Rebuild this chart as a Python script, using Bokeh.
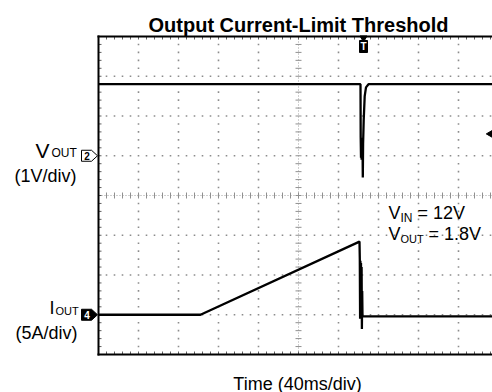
import numpy as np
from bokeh.plotting import figure
from bokeh.models import Range1d
from bokeh.core.properties import value
from bokeh.embed import file_html
from bokeh.resources import INLINE

# ---------------- data ----------------
title_text = "Output Current-Limit Threshold"
x_label = "Time (40ms/div)"
ms_per_div = 40.0
v_per_div = 1.0
a_per_div = 5.0
vout_ref_div = 1.0     # channel 2 ground marker (divisions from centre)
iout_ref_div = -3.0    # channel 4 zero marker

# VOUT trace (ms, V)
vout_t = [0, 262.0, 262.2, 262.5, 262.8, 263.1, 263.4, 263.7, 264.0, 264.3, 264.6, 265.2, 266.2, 267.5, 270.0, 394]
vout_v = [1.8, 1.8, 0.46, -0.05, 0.45, -0.1, 0.45, -0.05, 0.4, -0.55, 0.3, 0.9, 1.5, 1.72, 1.8, 1.8]

# IOUT trace (ms, A)
iout_t = [0, 102, 261.0, 261.3, 261.6, 261.9, 262.2, 262.5, 262.8, 263.1, 263.4, 263.7, 264.0, 266.0, 394]
iout_a = [0, 0, 9.2, 7.0, -0.5, 6.8, -0.3, 6.5, -0.5, 6.0, -1.8, 3.0, -0.2, -0.2, -0.2]

trigger_t = 265.0
trigger_level_v = 0.55

# ---------------- layout helpers (page pixels -> data) ----------------
PX_DIV_X = 40.0
PX_DIV_Y = 39.75
def gx(page_x):
    return (page_x - 98) * ms_per_div / PX_DIV_X
def gy(page_y):
    return (195 - page_y) / PX_DIV_Y

FONT = value("Liberation Sans")

OX, OY = 0, 0
W, H = 492, 392
p = figure(width=W, height=H,
           x_range=Range1d(gx(OX), gx(OX + W)), y_range=Range1d(gy(OY + H), gy(OY)),
           output_backend="svg", toolbar_location=None,
           x_axis_type=None, y_axis_type=None, min_border=0,
           outline_line_color=None, background_fill_color="white",
           border_fill_color="white")

t_max = gx(OX + W) + 5
dx_minor = ms_per_div / 5

# grid dots
dxs, dys = [], []
for k in range(1, 10):
    if k == 5:
        continue
    for j in range(1, 40):
        dxs.append(k * ms_per_div)
        dys.append(-4 + 0.2 * j)
for yy in [-3, -2, -1, 1, 2, 3]:
    j = 1
    while j * dx_minor < t_max:
        if j % 5 != 0:
            dxs.append(j * dx_minor)
            dys.append(yy)
        j += 1
p.scatter(dxs, dys, marker="square", size=1.6, fill_color="#8c8c8c", line_color=None)

# centre cross
p.line([5 * ms_per_div] * 2, [-4, 4], line_color="#a0a0a0", line_width=1, line_dash="1 2")
p.line([0, t_max], [0, 0], line_color="#a0a0a0", line_width=1, line_dash="1 2")
cy = [-4 + 0.2 * j for j in range(1, 40)]
p.segment(x0=[5 * ms_per_div - 3] * len(cy), y0=cy, x1=[5 * ms_per_div + 3] * len(cy), y1=cy,
          line_color="#909090", line_width=1)
cx = [j * dx_minor for j in range(1, int(t_max / dx_minor) + 1)]
p.segment(x0=cx, y0=[-3 / PX_DIV_Y] * len(cx), x1=cx, y1=[3 / PX_DIV_Y] * len(cx),
          line_color="#909090", line_width=1)

# border ticks
p.segment(x0=[0] * len(cy), y0=cy, x1=[3] * len(cy), y1=cy, line_color="#606060", line_width=1)
p.segment(x0=cx, y0=[4] * len(cx), x1=cx, y1=[4 - 3 / PX_DIV_Y] * len(cx), line_color="#606060", line_width=1)
p.segment(x0=cx, y0=[-4] * len(cx), x1=cx, y1=[-4 + 3 / PX_DIV_Y] * len(cx), line_color="#606060", line_width=1)

# frame (left, top, bottom)
p.segment(x0=[0, 0, 0], y0=[-4, 4, -4], x1=[0, t_max, t_max], y1=[4, 4, -4],
          line_color="black", line_width=2, line_cap="square")

# traces
p.line(vout_t, [v / v_per_div + vout_ref_div for v in vout_v], line_color="black", line_width=2.3)
p.line(iout_t, [a / a_per_div + iout_ref_div for a in iout_a], line_color="black", line_width=2.3)

# trigger markers
p.scatter([trigger_t], [gy(37.5)], marker="inverted_triangle", size=7, color="black")
p.rect([trigger_t], [gy(46)], width=8, height=12 / PX_DIV_Y, fill_color="black", line_color="black")
p.text([trigger_t], [gy(46)], text=["T"], text_color="white", text_font=FONT, text_font_size="10px",
       text_font_style="bold", text_align="center", text_baseline="middle")
p.scatter([gx(491)], [trigger_level_v / v_per_div + vout_ref_div], marker="triangle",
          angle=np.pi / 2, size=9, color="black")

# channel markers
def pent(yc):
    h = 5.5 / PX_DIV_Y
    return ([gx(81), gx(91), gx(97), gx(91), gx(81)], [yc + h, yc + h, yc, yc - h, yc - h])
xs2, ys2 = pent(vout_ref_div)
xs4, ys4 = pent(iout_ref_div)
p.patch(xs2, ys2, fill_color="white", line_color="black", line_width=1)
p.patch(xs4, ys4, fill_color="black", line_color="black", line_width=1)
p.text([gx(86.5)], [vout_ref_div], text=["2"], text_color="black", text_font=FONT, text_font_size="10px",
       text_font_style="bold", text_align="center", text_baseline="middle")
p.text([gx(86.5)], [iout_ref_div], text=["4"], text_color="white", text_font=FONT, text_font_size="10px",
       text_font_style="bold", text_align="center", text_baseline="middle")

def txt(x, y, s, size, align="left", bold=False):
    p.text([x], [y], text=[s], text_color="black", text_font=FONT, text_font_size=size,
           text_font_style="bold" if bold else "normal", text_align=align, text_baseline="alphabetic")

# title and x label
txt(gx(298), gy(24), title_text, "20px", "center", True)
txt(gx(297), gy(383), x_label, "18px", "center")

# left labels
txt(gx(49), gy(150), "V", "21px", "right")
txt(gx(51), gy(152), "OUT", "12px", "left")
txt(gx(76), gy(175), "(1V/div)", "18px", "right")
txt(gx(54), gy(307), "I", "18px", "right")
txt(gx(55), gy(310.5), "OUT", "11px", "left")
txt(gx(77), gy(332), "(5A/div)", "18px", "right")

# condition annotation
txt(gx(388), gy(212), "V", "18px")
txt(gx(400), gy(217.5), "IN", "12px")
txt(gx(417), gy(212), "= 12V", "18px")
txt(gx(388), gy(233), "V", "18px")
txt(gx(400), gy(238.5), "OUT", "11px")
txt(gx(428), gy(233), "= 1.8V", "18px")

open("out.html", "w").write(file_html(p, INLINE))
